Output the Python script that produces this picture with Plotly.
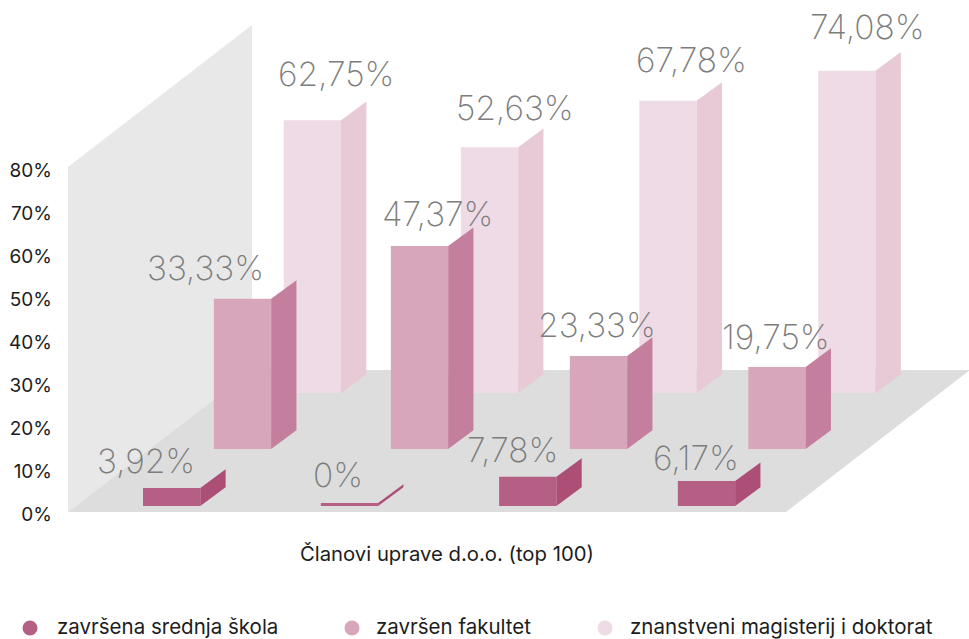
import plotly.graph_objects as go

# Series (bar heights in axis %, labels as printed)
series_names = ["završena srednja škola", "završen fakultet", "znanstveni magisterij i doktorat"]
srednja = [4.2, 0.7, 6.8, 5.8]
fakultet = [35.0, 47.3, 21.7, 19.1]
magisterij = [63.6, 57.3, 68.1, 75.1]
srednja_labels = ["3,92%", "0%", "7,78%", "6,17%"]
fakultet_labels = ["33,33%", "47,37%", "23,33%", "19,75%"]
magisterij_labels = ["62,75%", "52,63%", "67,78%", "74,08%"]
y_ticks = [0, 10, 20, 30, 40, 50, 60, 70, 80]
category_title = "Članovi uprave d.o.o. (top 100)"

# Colours
front = ["#b65f85", "#d7a6bb", "#efdbe5"]
side = ["#ac4e76", "#c57f9e", "#e8c9d6"]
WALL, FLOOR = "#e8e8e8", "#dddddd"
LABEL, TEXT = "#7d7d7d", "#1c1c1c"

# Geometry
W, H = 969, 639
AXIS_X = 52
ZERO_PX, PX_PER_UNIT = 514, 4.29
BAR_W, DX, DY_PX = 57.3, 25.3, 18.7
DY = DY_PX / PX_PER_UNIT
FONT = "Inter"


def val(px):
    return (ZERO_PX - px) / PX_PER_UNIT


centers = [
    [171.65, 349.5, 527.75, 706.5],
    [242.5, 419.5, 598.5, 777],
    [312.4, 489.5, 668, 846.9],
]
bases = [val(506), val(449), val(393)]
heights = [srednja, fakultet, magisterij]
labels = [srednja_labels, fakultet_labels, magisterij_labels]
label_dx = [
    [-25.5, -11.5, -15, -10.5],
    [-37.5, 18, -1.5, -1],
    [24, 25.5, 23, 20.5],
]
label_up = [
    [27, 28, 27, 23],
    [31, 32, 31, 30],
    [46, 39, 41, 44],
]

fig = go.Figure()
annotations = []

# back row first so nearer bars overlap it
for s in (2, 1, 0):
    base = bases[s]
    fig.add_trace(go.Bar(
        x=centers[s], y=heights[s], base=[base] * 4, width=BAR_W,
        marker=dict(color=front[s], line=dict(width=0)),
        name=series_names[s], showlegend=False, hoverinfo="skip",
    ))
    for c, h in zip(centers[s], heights[s]):
        r = c + BAR_W / 2
        fig.add_trace(go.Scatter(
            x=[r, r + DX, r + DX, r, r],
            y=[base, base + DY, base + h + DY, base + h, base],
            mode="lines", fill="toself", fillcolor=side[s],
            line=dict(width=0), showlegend=False, hoverinfo="skip",
        ))
    for c, h, t, dx, up in zip(centers[s], heights[s], labels[s], label_dx[s], label_up[s]):
        annotations.append(dict(
            x=c, y=base + h, xref="x", yref="y", text=t, showarrow=False,
            xanchor="center", yanchor="middle", xshift=dx, yshift=up,
            font=dict(family=FONT, size=33.5, color=LABEL, weight=200),
        ))

# Legend row
legend_marker_x = [30, 352, 605]
legend_text_x = [55, 374, 628]
legend_marker_y = val(628)
legend_text_y = val(626)
fig.add_trace(go.Scatter(
    x=legend_marker_x, y=[legend_marker_y] * 3, mode="markers",
    marker=dict(size=15, color=front, line=dict(width=0)),
    showlegend=False, hoverinfo="skip", cliponaxis=False,
))
for x, name in zip(legend_text_x, series_names):
    annotations.append(dict(
        x=x, y=legend_text_y, xref="x", yref="y", text=name, showarrow=False,
        xanchor="left", yanchor="middle",
        font=dict(family=FONT, size=20.5, color=TEXT),
    ))
annotations.append(dict(
    x=446.5, y=val(553), xref="x", yref="y", text=category_title, showarrow=False,
    xanchor="center", yanchor="middle",
    font=dict(family=FONT, size=20.3, color=TEXT),
))


def poly(points):
    return "M " + " L ".join(f"{x} {val(p)}" for x, p in points) + " Z"


shapes = [
    dict(type="path", xref="x", yref="y", layer="below", line=dict(width=0), fillcolor=WALL,
         path=poly([(68, 512), (68, 167), (252, 25), (252, 370)])),
    dict(type="path", xref="x", yref="y", layer="below", line=dict(width=0), fillcolor=FLOOR,
         path=poly([(68, 512), (786, 512), (970, 370), (252, 370)])),
]

fig.update_layout(
    width=W, height=H, autosize=False,
    margin=dict(l=0, r=0, t=0, b=0, pad=0),
    paper_bgcolor="white", plot_bgcolor="white",
    barmode="overlay", showlegend=False,
    shapes=shapes, annotations=annotations,
    font=dict(family=FONT, color=TEXT),
    xaxis=dict(range=[0, W], domain=[0, 1], visible=False, fixedrange=True),
    yaxis=dict(
        range=[val(H), val(0)], tickmode="array", tickvals=y_ticks,
        ticktext=[f"{v}%" for v in y_ticks], showgrid=False, zeroline=False,
        showline=False, ticks="", tickfont=dict(family=FONT, size=19, color=TEXT),
        fixedrange=True, anchor="free", position=AXIS_X / W,
    ),
)

fig.write_html(
    "out.html",
    config={"displayModeBar": False},
    post_script="document.body.style.margin='0';document.documentElement.style.overflow='hidden';",
)
